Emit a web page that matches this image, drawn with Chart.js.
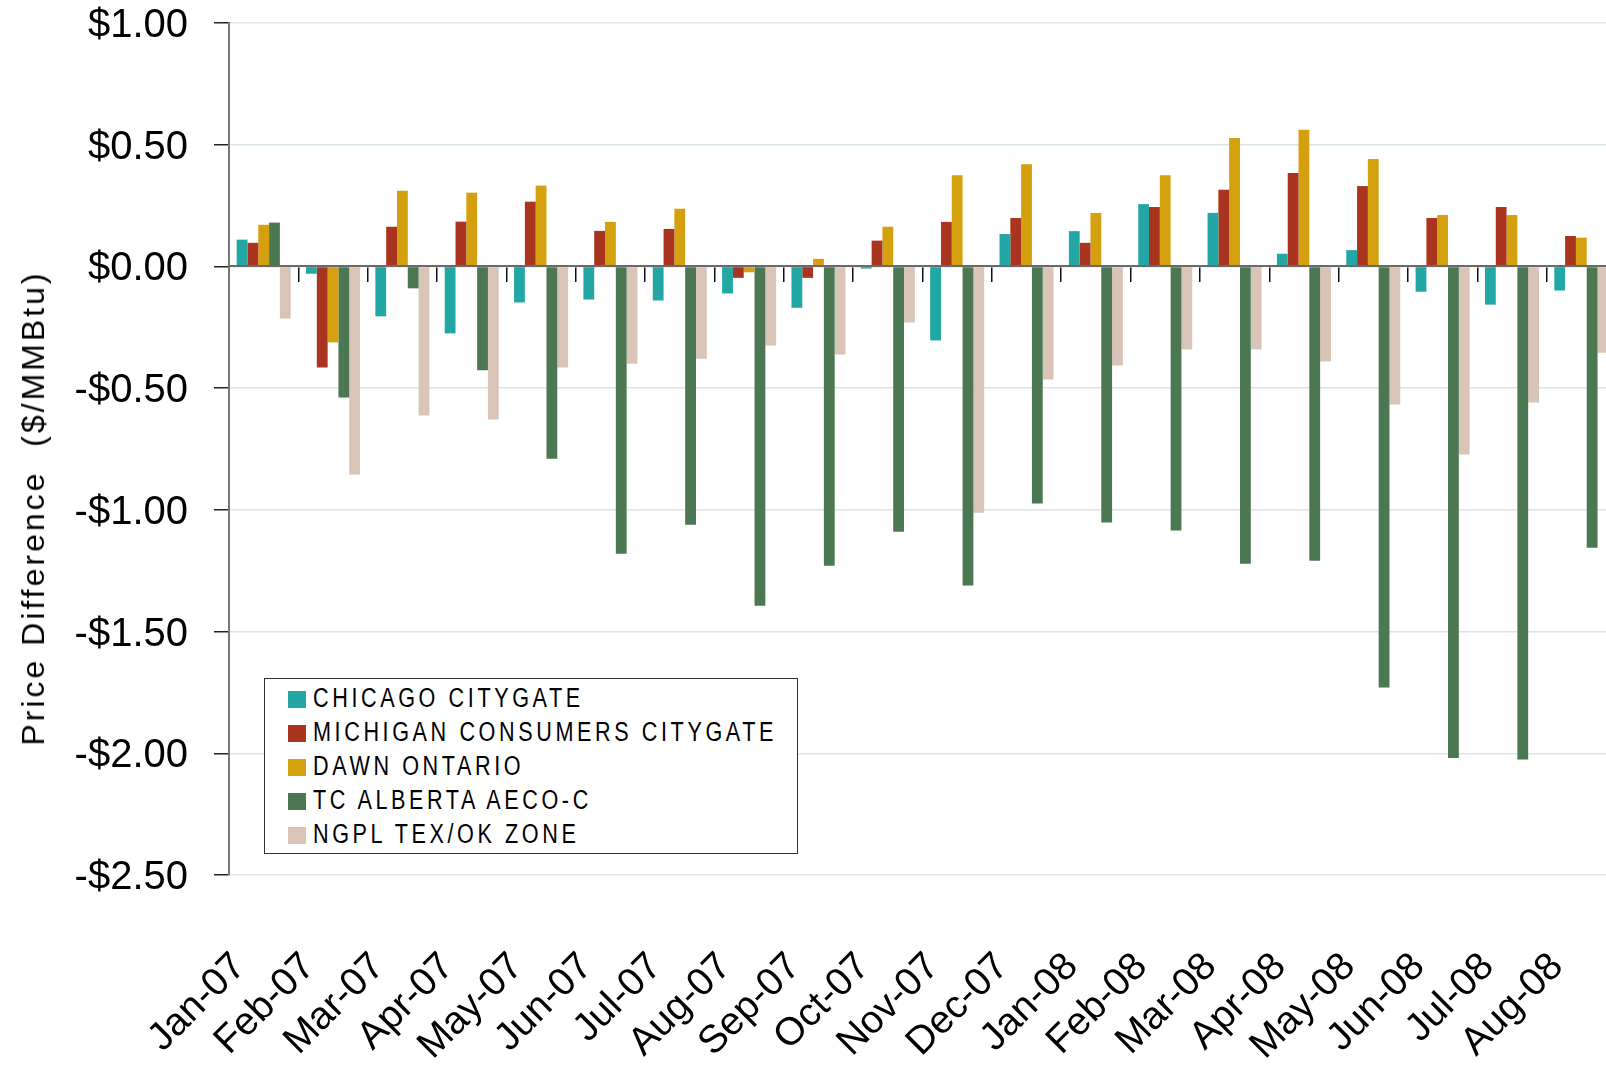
<!DOCTYPE html>
<html>
<head>
<meta charset="utf-8">
<script src="https://cdn.jsdelivr.net/npm/chart.js@4.4.1/dist/chart.umd.min.js"></script>
<style>
  body { margin: 0; width: 1606px; height: 1067px; overflow: hidden; background: #fff; position: relative; font-family: "Liberation Sans", Arial, sans-serif; }
  #wrap { position: absolute; left: 0; top: 0; width: 1620px; height: 1067px; }
  #y-title { position: absolute; left: 33px; top: 508px; transform: translate(-50%, -50%) rotate(-90deg); font-size: 32px; line-height: 1; letter-spacing: 3px; white-space: pre; color: #000; }
  #legend-box { position: absolute; left: 264px; top: 678px; width: 532px; height: 174px; border: 1.5px solid #333; background: #fff; }
  .legend-swatch { position: absolute; left: 288px; width: 18px; height: 17px; }
  .legend-text { position: absolute; left: 313px; font-size: 27px; line-height: 27px; letter-spacing: 4.5px; white-space: pre; transform: scaleX(0.8); transform-origin: left center; color: #000; }
</style>
</head>
<body>
<div id="wrap"><canvas id="chart" width="1620" height="1067"></canvas></div>
<div id="y-title">Price Difference  ($/MMBtu)</div>
<div id="legend-box"></div>
<script>
const CATEGORIES = ['Jan-07', 'Feb-07', 'Mar-07', 'Apr-07', 'May-07', 'Jun-07', 'Jul-07', 'Aug-07', 'Sep-07', 'Oct-07',
  'Nov-07', 'Dec-07', 'Jan-08', 'Feb-08', 'Mar-08', 'Apr-08', 'May-08', 'Jun-08', 'Jul-08', 'Aug-08'];

const CHICAGO = [0.110, -0.030, -0.205, -0.275, -0.148, -0.136, -0.140, -0.111, -0.170, -0.009,
  -0.304, 0.133, 0.145, 0.256, 0.220, 0.052, 0.067, -0.104, -0.157, -0.099];
const MICHIGAN = [0.097, -0.415, 0.163, 0.184, 0.266, 0.146, 0.154, -0.047, -0.047, 0.106,
  0.183, 0.199, 0.097, 0.244, 0.315, 0.384, 0.330, 0.199, 0.244, 0.125];
const DAWN = [0.171, -0.312, 0.311, 0.303, 0.332, 0.183, 0.237, -0.024, 0.031, 0.163,
  0.375, 0.420, 0.220, 0.375, 0.528, 0.561, 0.441, 0.211, 0.211, 0.118];
const TC_ALBERTA = [0.180, -0.538, -0.090, -0.427, -0.790, -1.180, -1.061, -1.394, -1.230, -1.090,
  -1.311, -0.974, -1.052, -1.085, -1.221, -1.209, -1.730, -2.019, -2.026, -1.156];
const NGPL = [-0.214, -0.855, -0.612, -0.629, -0.415, -0.400, -0.379, -0.325, -0.362, -0.230,
  -1.012, -0.465, -0.407, -0.341, -0.341, -0.391, -0.567, -0.773, -0.559, -0.355];

const SERIES_NAMES = ['CHICAGO CITYGATE', 'MICHIGAN CONSUMERS CITYGATE', 'DAWN ONTARIO', 'TC ALBERTA AECO-C', 'NGPL TEX/OK ZONE'];
const SERIES_DATA = [CHICAGO, MICHIGAN, DAWN, TC_ALBERTA, NGPL];
const SERIES_COLORS = ['#23a7a4', '#a93520', '#d4a00f', '#4b7752', '#dac4b7'];

const Y_MIN = -2.5;
const Y_MAX = 1.0;
const Y_STEP = 0.5;

const FONT = '"Liberation Sans", Arial, sans-serif';

const formatDollar = (v) => {
  if (Math.abs(v) < 1e-9) return '$0.00';
  return (v < 0 ? '-$' : '$') + Math.abs(v).toFixed(2);
}

// html legend, same order as the datasets
const buildLegend = () => {
  SERIES_NAMES.forEach((name, i) => {
    const sw = document.createElement('div');
    sw.className = 'legend-swatch';
    sw.style.top = (691 + i * 34) + 'px';
    sw.style.background = SERIES_COLORS[i];
    document.body.appendChild(sw);
    const txt = document.createElement('div');
    txt.className = 'legend-text';
    txt.style.top = (685 + i * 34) + 'px';
    txt.textContent = name;
    document.body.appendChild(txt);
  })
}

buildLegend();

new Chart(document.getElementById('chart'), {
  type: 'bar',
  data: {
    labels: CATEGORIES,
    datasets: SERIES_NAMES.map((name, i) => ({
      label: name,
      data: SERIES_DATA[i],
      backgroundColor: SERIES_COLORS[i],
      borderWidth: 0,
      categoryPercentage: 0.779,
      barPercentage: 1.0
    }))
  },
  options: {
    responsive: false,
    animation: false,
    layout: {
      padding: { top: 23, right: 4, left: 0, bottom: 0 }
    },
    plugins: {
      legend: { display: false },
      tooltip: { enabled: false }
    },
    scales: {
      x: {
        type: 'category',
        position: 'bottom',
        offset: true,
        grid: { display: false, drawTicks: false },
        border: { display: false },
        ticks: {
          autoSkip: false,
          minRotation: 45,
          maxRotation: 45,
          padding: 69,
          labelOffset: -24,
          color: '#000',
          font: { family: FONT, size: 39 }
        },
        afterFit: (scale) => {
          scale.height = 192;
          scale.paddingLeft = 0;
          scale.paddingRight = 0;
        }
      },
      // zero line with the little category ticks hanging from it
      x2: {
        type: 'category',
        position: { y: 0 },
        offset: true,
        grid: {
          offset: true,
          drawOnChartArea: false,
          drawTicks: true,
          tickLength: 15,
          color: '#111',
          lineWidth: 1.5
        },
        border: { display: true, color: '#6a6a6a', width: 2, z: 1 },
        ticks: { display: false },
        afterFit: (scale) => {
          scale.paddingLeft = 0;
          scale.paddingRight = 0;
        }
      },
      y: {
        min: Y_MIN,
        max: Y_MAX,
        ticks: {
          stepSize: Y_STEP,
          padding: 26,
          labelOffset: 3,
          color: '#000',
          font: { family: FONT, size: 40 },
          callback: (v) => formatDollar(v)
        },
        grid: {
          color: '#d9e6e6',
          lineWidth: 1.5,
          tickColor: '#222',
          tickLength: 15,
          tickWidth: 1.5
        },
        border: { color: '#777', width: 2 },
        afterFit: (scale) => {
          scale.width = 229;
          scale.paddingTop = 0;
          scale.paddingBottom = 0;
        }
      }
    }
  }
});
</script>
</body>
</html>
